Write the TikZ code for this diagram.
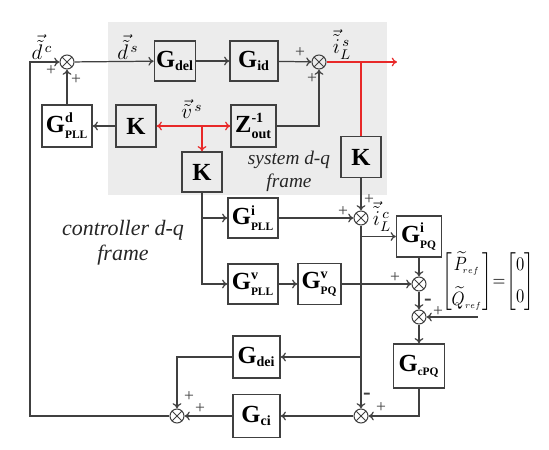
\documentclass[tikz,border=0pt]{standalone}
\usepackage{amsmath}
\usepackage{graphicx}
\usepackage{fontspec}
\setmainfont{Liberation Serif}
\usepackage{xcolor}
\usepackage{tikz}
\usetikzlibrary{positioning,arrows.meta}

\definecolor{linec}{RGB}{64,64,64}
\definecolor{sigred}{RGB}{232,40,40}
\definecolor{framebg}{RGB}{236,236,236}

\newcommand{\bsub}[1]{\text{\fontsize{8}{8}\selectfont\bfseries #1}}
\newcommand{\bcap}[1]{\text{\fontsize{6.5}{7}\selectfont\bfseries #1}}

\begin{document}
\begin{tikzpicture}[
  x=0.02cm, y=-0.02cm,
  blk/.style={draw=linec, line width=0.7pt, minimum width=0.8cm, minimum height=0.8cm,
    inner sep=1pt, font=\fontsize{14}{16}\selectfont},
  sumc/.style={circle, draw=linec, line width=0.6pt, minimum size=0.28cm, inner sep=0pt,
    path picture={\draw[linec, line width=0.6pt]
      (path picture bounding box.north west) -- (path picture bounding box.south east)
      (path picture bounding box.north east) -- (path picture bounding box.south west);}},
  sgn/.style={font=\fontsize{10}{10}\selectfont, text=linec, inner sep=0pt},
  msgn/.style={font=\fontsize{13}{13}\selectfont\bfseries, text=linec, inner sep=0pt},
  lbl/.style={font=\fontsize{12}{14}\selectfont, inner sep=0pt},
  frm/.style={font=\fontsize{12.5}{14}\selectfont\itshape, align=center, text=black!85},
  sig/.style={->, draw=linec, line width=0.7pt},
  rsig/.style={draw=sigred, line width=0.7pt},
  >={To[length=3pt,width=5pt]}
]
\useasboundingbox (0,0) rectangle (549,450);
\fill[framebg] (108,22) rectangle (387,195);

% system d-q frame
\node[sumc] (s1) at (67,62) {};
\node[blk] (Gdel) at (175,61) {$\textbf{G}_{\bsub{del}}$};
\node[blk, minimum width=0.96cm] (Gid) at (254,61) {$\textbf{G}_{\bsub{id}}$};
\node[sumc] (s2) at (319,62) {};
\coordinate (iout) at (397,62);
\coordinate (ijn) at (361,62);
\node[blk, minimum height=0.82cm] (K1) at (361,157) {\textbf{K}};

\node[blk, minimum width=1.0cm, minimum height=0.84cm] (GdPLL) at (67,126) {$\textbf{G}^{\bsub{d}}_{\bcap{PLL}}$};
\node[blk, minimum height=0.84cm] (Kv) at (136,126) {\textbf{K}};
\node[blk, minimum width=0.9cm, minimum height=0.84cm] (Zout) at (253.5,126) {$\textbf{Z}^{\bsub{-1}}_{\bsub{out}}$};
\coordinate (vjn) at (202,126);
\node[blk] (K2) at (202,172) {\textbf{K}};

\node[frm, font=\fontsize{11}{13}\selectfont\itshape] (sysfr) at (289,171) {system d-q\\frame};
\node[frm] (ctlfr) at (123,243) {controller d-q\\frame};

% controller d-q frame
\node[blk, minimum width=1.0cm] (GiPLL) at (253,218) {$\textbf{G}^{\bsub{i}}_{\bcap{PLL}}$};
\node[blk, minimum width=1.0cm] (GvPLL) at (253,284) {$\textbf{G}^{\bsub{v}}_{\bcap{PLL}}$};
\node[sumc] (s3) at (361,218) {};
\node[blk, minimum width=0.9cm, minimum height=0.82cm] (GiPQ) at (419,236.5) {$\textbf{G}^{\bsub{i}}_{\bcap{PQ}}$};
\node[blk, minimum width=0.86cm, minimum height=0.82cm] (GvPQ) at (319.5,284) {$\textbf{G}^{\bsub{v}}_{\bcap{PQ}}$};
\node[sumc] (s4) at (419,284) {};
\node[sumc] (s5) at (419,317) {};
\node[lbl, font=\fontsize{11}{13}\selectfont] (pqref) at (488,282)
  {\scalebox{0.86}[1]{$\left[\begin{matrix}\widetilde{P}_{\!\scriptscriptstyle ref}\\[5pt]\widetilde{Q}_{\scriptscriptstyle ref}\end{matrix}\right]\mkern-2mu{=}\mkern-2mu\left[\begin{matrix}0\\[5pt]0\end{matrix}\right]$}};
\coordinate (pref) at (478,317);
\node[blk, minimum width=1.02cm, minimum height=0.88cm] (GcPQ) at (419,366) {$\textbf{G}_{\bcap{cPQ}}$};
\node[blk, minimum width=0.94cm, minimum height=0.84cm] (Gdei) at (256.5,357) {$\textbf{G}_{\bsub{dei}}$};
\node[blk, minimum width=0.94cm, minimum height=0.86cm] (Gci) at (256.5,416) {$\textbf{G}_{\bsub{ci}}$};
\node[sumc] (s6) at (177,416) {};
\node[sumc] (s7) at (361,416) {};
\coordinate (lc) at (30,416);

% signal labels
\node[lbl] (dc) at (42,47) {$\vec{\tilde{d}}^{\,c}$};
\node[lbl] (ds) at (128,47) {$\vec{\tilde{d}}^{\,s}$};
\node[lbl] (vs) at (192,109) {$\vec{\tilde{v}}^{\,s}$};
\node[lbl] (ils) at (342,44) {$\vec{\tilde{i}}_{L}^{\,s}$};
\node[lbl] (ilc) at (382,216) {$\vec{\tilde{i}}_{L}^{\,c}$};

% signs
\node[sgn] (p1a) at (51,71) {+};
\node[sgn] (p1b) at (76,80) {+};
\node[sgn] (p2a) at (300,53) {+};
\node[sgn] (p2b) at (312,79) {+};
\node[sgn] (p3a) at (369,200) {+};
\node[sgn] (p3b) at (343,212) {+};
\node[sgn] (p4a) at (395,278) {+};
\node[msgn] (m5a) at (428,302) {-};
\node[sgn] (p5b) at (438,312) {+};
\node[msgn] (m7a) at (367,396) {-};
\node[sgn] (p7b) at (381,408) {+};
\node[sgn] (p6a) at (189,397) {+};
\node[sgn] (p6b) at (200,409) {+};

% connectors
\draw[sig] (s1) -- (Gdel);
\draw[sig] (Gdel) -- (Gid);
\draw[sig] (Gid) -- (s2);
\draw[rsig, ->] (s2) -- (iout);
\draw[rsig] (ijn) -- (K1);
\draw[sig] (Zout) -| (s2);
\draw[sig] (Kv) -- (GdPLL);
\draw[sig] (GdPLL) -- (s1);
\draw[rsig, <->] (Kv) -- (Zout);
\draw[rsig, ->] (vjn) -- (K2);
\draw[sig] (K2) |- (GiPLL);
\draw[sig] (K2) |- (GvPLL);
\draw[sig] (GiPLL) -- (s3);
\draw[sig] (K1) -- (s3);
\draw[sig] (s3) |- (GiPQ);
\draw[sig] (s3) -- (s7);
\draw[sig] (s3) |- (Gdei);
\draw[sig] (GvPLL) -- (GvPQ);
\draw[sig] (GvPQ) -- (s4);
\draw[sig] (GiPQ) -- (s4);
\draw[sig] (s4) -- (s5);
\draw[sig] (pref) -- (s5);
\draw[sig] (s5) -- (GcPQ);
\draw[sig] (GcPQ) |- (s7);
\draw[sig] (s7) -- (Gci);
\draw[sig] (Gci) -- (s6);
\draw[sig] (Gdei) -| (s6);
\draw[sig] (s6) -- (lc) |- (s1);
\end{tikzpicture}
\end{document}
